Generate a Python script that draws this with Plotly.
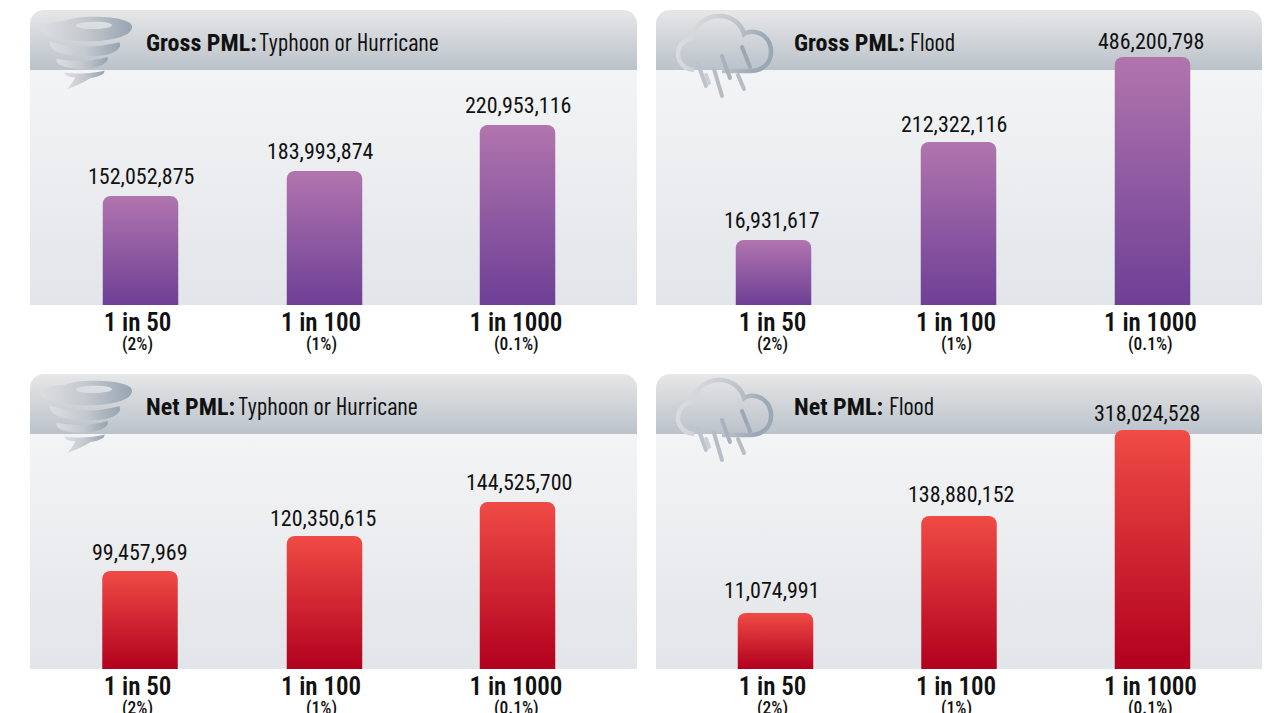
import base64
import plotly.graph_objects as go

W, H = 1277, 713
FONT = "Roboto Condensed"
FONT_NARROW = "Barlow Condensed"

# printed figures
periods = ["1 in 50", "1 in 100", "1 in 1000"]
shares = ["(2%)", "(1%)", "(0.1%)"]
gross_typhoon_labels = ["152,052,875", "183,993,874", "220,953,116"]
gross_flood_labels = ["16,931,617", "212,322,116", "486,200,798"]
net_typhoon_labels = ["99,457,969", "120,350,615", "144,525,700"]
net_flood_labels = ["11,074,991", "138,880,152", "318,024,528"]

# the drawn bar heights are not proportional to the printed figures
gross_typhoon_drawn = [109, 134, 180]
gross_flood_drawn = [65, 163, 248]
net_typhoon_drawn = [98, 133, 167]
net_flood_drawn = [56, 153, 239]

panels = [
    dict(x0=30, y0=10, kind="typhoon", bold="Gross PML:", rest="Typhoon or Hurricane", rest_x=259,
         labels=gross_typhoon_labels, drawn=gross_typhoon_drawn, centres=[140.5, 324.5, 517.5], grad="purple",
         label_x=[140.5, 320.5, 518], gap=[20, 20, 20], tick_x=[137.5, 321, 516]),
    dict(x0=656, y0=10, kind="flood", bold="Gross PML:", rest="Flood", rest_x=910,
         labels=gross_flood_labels, drawn=gross_flood_drawn, centres=[773.5, 958.5, 1152.5], grad="purple",
         label_x=[772, 953.5, 1151], gap=[20, 18, 16], tick_x=[772.5, 956, 1150.5]),
    dict(x0=30, y0=374, kind="typhoon", bold="Net PML:", rest="Typhoon or Hurricane", rest_x=238,
         labels=net_typhoon_labels, drawn=net_typhoon_drawn, centres=[140, 324.5, 517.5], grad="red",
         label_x=[139.5, 322.5, 519], gap=[19, 18, 20], tick_x=[137.5, 321, 516]),
    dict(x0=656, y0=374, kind="flood", bold="Net PML:", rest="Flood", rest_x=889,
         labels=net_flood_labels, drawn=net_flood_drawn, centres=[775.5, 959, 1152.5], grad="red",
         label_x=[772, 960.5, 1147], gap=[23, 22, 17], tick_x=[772.5, 956, 1150.5]),
]
HEAD, BODY = 60, 235
BAR_W = 75.5


def uri(svg):
    return "data:image/svg+xml;base64," + base64.b64encode(svg.encode()).decode()


def panel_svg(w):
    h = HEAD + BODY
    return f"""<svg xmlns="http://www.w3.org/2000/svg" width="{w}" height="{h}" viewBox="0 0 {w} {h}">
<defs><linearGradient id="a" x1="0" y1="0" x2="0" y2="1"><stop offset="0" stop-color="#e6e7e8"/><stop offset="1" stop-color="#bbc2ca"/></linearGradient>
<linearGradient id="b" x1="0" y1="0" x2="0" y2="1"><stop offset="0" stop-color="#f3f4f5"/><stop offset="1" stop-color="#e2e5e9"/></linearGradient></defs>
<path d="M0 {HEAD}V14a14 14 0 0 1 14-14H{w-14}a14 14 0 0 1 14 14V{HEAD}Z" fill="url(#a)"/>
<rect y="{HEAD}" width="{w}" height="{BODY}" fill="url(#b)"/></svg>"""


TORNADO = """<svg xmlns="http://www.w3.org/2000/svg" width="100" height="76" viewBox="0 0 100 76">
<defs><linearGradient id="t" x1="0" y1="0" x2="1" y2="0"><stop offset="0" stop-color="#dcdee1"/><stop offset="0.5" stop-color="#c4c9cf"/><stop offset="1" stop-color="#97a4b1"/></linearGradient></defs>
<path fill-rule="evenodd" fill="url(#t)" d="M0 13C3 8 14 6 26 5C36 0 70 -1 86 4C97 7 97 13 91 18C82 24 60 27 42 26C22 25 4 21 0 13ZM38 9C36 13 52 14 64 13C75 12 78 9 70 7C60 5 42 6 38 9Z"/>
<path fill="url(#t)" d="M11 26C30 33 60 33 82 27C85 32 80 37 68 40C50 43 24 41 15 35C12 32 10 29 11 26Z"/>
<path fill="url(#t)" d="M18 44C36 48 56 46 70 42C72 48 62 53 48 54C34 55 16 52 18 44Z"/>
<path fill="url(#t)" d="M26 58C38 60 56 59 67 56C67 61 58 63 52 64C46 68 38 72 29 75C33 70 36 66 37 63C31 63 26 61 26 58Z"/>
</svg>"""

CLOUD = """<svg xmlns="http://www.w3.org/2000/svg" width="100" height="86" viewBox="0 0 100 86">
<defs><linearGradient id="c" x1="0" y1="0" x2="1" y2="0.2"><stop offset="0" stop-color="#dfe1e4"/><stop offset="0.55" stop-color="#c5cad0"/><stop offset="1" stop-color="#9aa7b4"/></linearGradient></defs>
<path fill="none" stroke="url(#c)" stroke-width="4.5" d="M18 57C8 56 2 49 2 41C2 32 9 26 17 25C18 12 30 3 43 3C55 3 65 10 68 21C73 17 85 18 91 26C97 34 96 46 90 52C86 56 80 58 74 58H46"/>
<g stroke-width="4" stroke-linecap="round" fill="none">
<path d="M22 51L30 73" stroke="#bcc3ca"/><path d="M38 56L46 83" stroke="#b6bdc5"/><path d="M46 43L54 65" stroke="#aab3bd"/>
<path d="M66 34L74 54" stroke="#9ca8b4"/><path d="M62 62L68 76" stroke="#b6bdc5"/><path d="M30 62L33 70" stroke="#ccd0d5"/></g></svg>"""

fig = go.Figure()
images, annotations = [], []
layout_axes = {}

for i, p in enumerate(panels, start=1):
    xn, yn = ("x" if i == 1 else f"x{i}"), ("y" if i == 1 else f"y{i}")
    xk, yk = ("xaxis" if i == 1 else f"xaxis{i}"), ("yaxis" if i == 1 else f"yaxis{i}")
    top = p["y0"]
    bottom = top + HEAD + BODY
    pw = 607 if p["x0"] == 30 else 606
    fig.add_trace(go.Bar(
        x=p["centres"], y=p["drawn"], width=BAR_W, xaxis=xn, yaxis=yn,
        marker=dict(color="#8f55a0" if p["grad"] == "purple" else "#d52a30", line=dict(width=0)),
        cliponaxis=False, hoverinfo="skip", showlegend=False,
    ))
    layout_axes[xk] = dict(
        domain=[p["x0"] / W, (p["x0"] + pw) / W], range=[p["x0"], p["x0"] + pw],
        tickmode="array", tickvals=p["tick_x"], ticktext=periods,
        tickfont=dict(family=FONT, size=25, color="#111111", weight=600),
        ticks="", showgrid=False, zeroline=False, showline=False, anchor=yn, automargin=False,
    )
    layout_axes[yk] = dict(
        domain=[1 - bottom / H, 1 - top / H], range=[0, HEAD + BODY], visible=False, anchor=xn, fixedrange=True,
    )
    images.append(dict(source=uri(panel_svg(pw)), xref="paper", yref="paper", x=p["x0"] / W, y=1 - p["y0"] / H,
                       sizex=pw / W, sizey=(HEAD + BODY) / H, xanchor="left", yanchor="top",
                       sizing="stretch", layer="below"))
    if p["kind"] == "typhoon":
        icon, ix, iy, iw, ih = TORNADO, p["x0"] + 9, p["y0"] + 6, 98, 74
    else:
        icon, ix, iy, iw, ih = CLOUD, p["x0"] + 20, p["y0"] + 3, 100, 86
    images.append(dict(source=uri(icon), xref="paper", yref="paper", x=ix / W, y=1 - iy / H,
                       sizex=iw / W, sizey=ih / H, xanchor="left", yanchor="top", sizing="stretch", layer="below"))
    annotations.append(dict(
        xref="paper", yref="paper", x=(p["x0"] + (115 if p["kind"] == "typhoon" else 137)) / W, y=1 - (p["y0"] + 33) / H,
        xanchor="left", yanchor="middle", showarrow=False, borderpad=0,
        text=f"<b>{p['bold']}</b>", font=dict(family=FONT, size=24, color="#111111"),
    ))
    annotations.append(dict(
        xref="paper", yref="paper", x=(p["rest_x"] - 1) / W, y=1 - (p["y0"] + 31) / H,
        xanchor="left", yanchor="middle", showarrow=False, borderpad=0,
        text=p["rest"], font=dict(family=FONT_NARROW, size=24.6, color="#111111"),
    ))
    for lx, d, g, t in zip(p["label_x"], p["drawn"], p["gap"], p["labels"]):
        annotations.append(dict(
            xref=xn, yref=yn, x=lx, y=d, yshift=g, xanchor="center", yanchor="middle", showarrow=False,
            text=t, font=dict(family=FONT, size=22, color="#111111"),
        ))
    for c, s in zip(p["tick_x"], shares):
        annotations.append(dict(
            xref=xn, yref="paper", x=c, y=1 - (bottom + 39.5) / H, xanchor="center", yanchor="middle",
            showarrow=False, text=s, font=dict(family=FONT, size=17.5, color="#111111", weight=500),
        ))

fig.update_layout(
    width=W, height=H, margin=dict(l=0, r=0, t=0, b=0), autosize=False,
    paper_bgcolor="white", plot_bgcolor="rgba(0,0,0,0)", barcornerradius=8,
    images=images, annotations=annotations, hovermode=False, **layout_axes,
)

POST = """
document.body.style.margin='0';document.body.style.overflow='hidden';
var gd=document.getElementById('{plot_id}');
function paint(){
 var svg=gd.querySelector('svg.main-svg');var ns='http://www.w3.org/2000/svg';
 var defs=svg.querySelector('defs');
 [['barP','#b175ae','#6e3f96'],['barR','#f04b45','#b1001e']].forEach(function(g){
  if(document.getElementById(g[0]))return;
  var l=document.createElementNS(ns,'linearGradient');l.setAttribute('id',g[0]);
  l.setAttribute('x1','0');l.setAttribute('y1','0');l.setAttribute('x2','0');l.setAttribute('y2','1');
  [[0,g[1]],[1,g[2]]].forEach(function(s){var e=document.createElementNS(ns,'stop');
   e.setAttribute('offset',s[0]);e.setAttribute('stop-color',s[1]);l.appendChild(e);});
  defs.appendChild(l);});
 gd.querySelectorAll('.barlayer .trace').forEach(function(t){
  var d=t.__data__&&t.__data__[0]&&t.__data__[0].trace;
  var red=d&&d.marker.color==='#d52a30';
  t.querySelectorAll('.point path').forEach(function(b){b.style.fill='url(#'+(red?'barR':'barP')+')';});
 });
}
paint();gd.on('plotly_afterplot',paint);
"""

fig.write_html("out.html", post_script=POST, config=dict(displayModeBar=False, responsive=False))
